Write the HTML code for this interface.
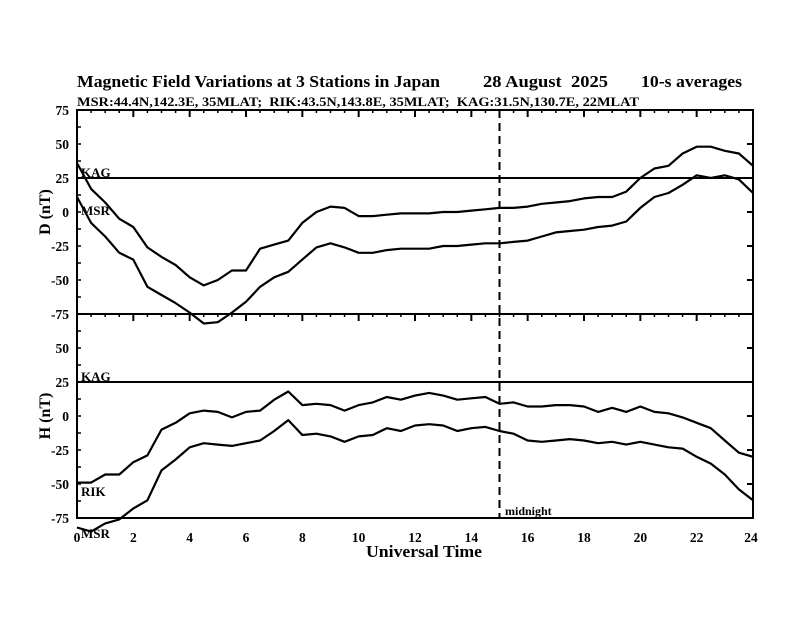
<!DOCTYPE html>
<html><head><meta charset="utf-8"><style>
body{margin:0;background:#fff;}
svg text{font-family:"Liberation Serif",serif;font-weight:bold;fill:#000;}
</style></head><body>
<svg id="chart" width="792" height="612" xmlns="http://www.w3.org/2000/svg">
<rect width="792" height="612" fill="#fff"/>
<text x="77" y="87" font-size="17" textLength="363" lengthAdjust="spacingAndGlyphs">Magnetic Field Variations at 3 Stations in Japan</text>
<text x="483" y="87" font-size="17" textLength="125" lengthAdjust="spacingAndGlyphs" xml:space="preserve">28 August  2025</text>
<text x="641" y="87" font-size="17" textLength="101" lengthAdjust="spacingAndGlyphs">10-s averages</text>
<text x="77" y="106" font-size="12.5" textLength="562" lengthAdjust="spacingAndGlyphs" xml:space="preserve">MSR:44.4N,142.3E, 35MLAT;  RIK:43.5N,143.8E, 35MLAT;  KAG:31.5N,130.7E, 22MLAT</text>
<text transform="translate(50,212) rotate(-90)" text-anchor="middle" font-size="16">D (nT)</text>
<text transform="translate(50,416) rotate(-90)" text-anchor="middle" font-size="16">H (nT)</text>
<text x="366" y="557" font-size="17" textLength="116" lengthAdjust="spacingAndGlyphs">Universal Time</text>
<g id="axes"></g>
<g id="series"></g>
<text x="81" y="177" font-size="13">KAG</text>
<text x="81" y="215" font-size="13">MSR</text>
<text x="81" y="381" font-size="13">KAG</text>
<text x="81" y="496" font-size="13">RIK</text>
<text x="81" y="538" font-size="13">MSR</text>
<text x="505" y="515" font-size="12">midnight</text>
</svg>
<script>
const times=[0,0.5,1,1.5,2,2.5,3,3.5,4,4.5,5,5.5,6,6.5,7,7.5,8,8.5,9,9.5,10,10.5,11,11.5,12,12.5,13,13.5,14,14.5,15,15.5,16,16.5,17,17.5,18,18.5,19,19.5,20,20.5,21,21.5,22,22.5,23,23.5,24];
const dUpper=[36,17,7,-5,-11,-26,-33,-39,-48,-54,-50,-43,-43,-27,-24,-21,-8,0,4,3,-3,-3,-2,-1,-1,-1,0,0,1,2,3,3,4,6,7,8,10,11,11,15,25,32,34,43,48,48,45,43,34];
const dLower=[11,-8,-18,-30,-35,-55,-61,-67,-74,-82,-81,-74,-66,-55,-48,-44,-35,-26,-23,-26,-30,-30,-28,-27,-27,-27,-25,-25,-24,-23,-23,-22,-21,-18,-15,-14,-13,-11,-10,-7,3,11,14,20,27,25,27,24,14];
const hRik=[-49,-49,-43,-43,-34,-29,-10,-5,2,4,3,-1,3,4,12,18,8,9,8,4,8,10,14,12,15,17,15,12,13,14,9,10,7,7,8,8,7,3,6,3,7,3,2,-1,-5,-9,-18,-27,-30];
const hMsr=[-82,-85,-79,-76,-68,-62,-40,-32,-23,-20,-21,-22,-20,-18,-11,-3,-14,-13,-15,-19,-15,-14,-9,-11,-7,-6,-7,-11,-9,-8,-11,-13,-18,-19,-18,-17,-18,-20,-19,-21,-19,-21,-23,-24,-30,-35,-43,-54,-62];
const yTickLabels=["75","50","25","0","-25","-50","-75"];
const yTickValues=[75,50,25,0,-25,-50,-75];
const xTickValues=[0,2,4,6,8,10,12,14,16,18,20,22,24];
const baselineValue=25, midnightUT=15;

const NS="http://www.w3.org/2000/svg";
const X0=77,X1=753;
const panels=[{top:110,bot:314,zero:212},{top:314,bot:518,zero:416}];
const xs=t=>X0+(X1-X0)*t/24;
const ys=(p,v)=>p.zero-v*1.36;
const axes=document.getElementById('axes'), ser=document.getElementById('series');
function mk(tag,at,parent){const e=document.createElementNS(NS,tag);for(const k in at)e.setAttribute(k,at[k]);parent.appendChild(e);return e;}
function line(x1,y1,x2,y2,w,parent,name){const e=mk('line',{x1,y1,x2,y2,stroke:'#000','stroke-width':w},parent);

return e;}
panels.forEach((p,i)=>{
  const r=mk('rect',{x:X0,y:p.top,width:X1-X0,height:p.bot-p.top,fill:'none',stroke:'#000','stroke-width':2},axes);
  
  
  for(let t=0;t<=24;t+=0.5){const maj=t%2===0;line(xs(t),p.top,xs(t),p.top+(maj?7:3),maj?2:1.5,axes,'x-tick');}
  for(let v=-75;v<=75;v+=12.5){const y=ys(p,v);line(X0,y,X0+4,y,1.5,axes,'y-minor-tick');
    if(v%25===0)line(X1-6,y,X1,y,2,axes,'y-tick-right');}
  line(X0,ys(p,baselineValue),X1,ys(p,baselineValue),2,axes,'kag-baseline');
  yTickValues.forEach((v,k)=>{ if(i===1&&k===0)return;
    const t=mk('text',{x:69,y:ys(p,v)+5,'text-anchor':'end','font-size':13.5},axes);t.textContent=yTickLabels[k];
    
    });
});
xTickValues.forEach(v=>{const t=mk('text',{x:xs(v)+(v===24?-2:0),y:542,'text-anchor':'middle','font-size':13.5},axes);t.textContent=v;
  
  });
const md=line(xs(midnightUT),110,xs(midnightUT),518,2,axes,'midnight-line');md.setAttribute('stroke-dasharray','8,5');
function series(vals,p,name){const d=vals.map((v,k)=>(k?'L':'M')+xs(times[k]).toFixed(1)+','+ys(p,v).toFixed(1)).join(' ');
  const e=mk('path',{d,fill:'none',stroke:'#000','stroke-width':2.2,'stroke-linejoin':'round'},ser);
  
  }
series(dUpper,panels[0],'d-series-kag');
series(dLower,panels[0],'d-series-msr');
series(hRik,panels[1],'h-series-rik');
series(hMsr,panels[1],'h-series-msr');
</script>
</body></html>
